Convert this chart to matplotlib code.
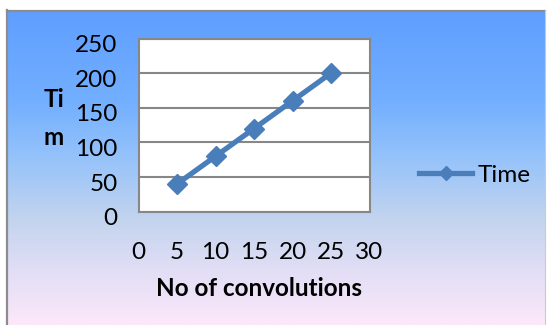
import numpy as np
import matplotlib.pyplot as plt
import matplotlib.transforms as mtransforms
from matplotlib.colors import LinearSegmentedColormap

plt.rcParams['font.family'] = ['Lato', 'DejaVu Sans']

# data
convolutions = [5, 10, 15, 20, 25]
time_taken = [40, 80, 120, 160, 200]
x_ticks = [0, 5, 10, 15, 20, 25, 30]
y_ticks = [0, 50, 100, 150, 200, 250]

W, H = 548, 325
fig = plt.figure(figsize=(W / 100, H / 100), dpi=100)

# chart area background, blue to pink gradient like the excel one
bg = fig.add_axes([0, 0, 1, 1])
bg.set_xlim(0, W)
bg.set_ylim(H, 0)
bg.axis('off')
stops = [(0.0, '#5f9eff'), (0.286, '#72afff'), (0.476, '#97c3fa'),
         (0.667, '#c3d4ee'), (0.825, '#e1def5'), (1.0, '#fce8fa')]
cmap = LinearSegmentedColormap.from_list('chartbg', stops)
grad = np.linspace(0, 1, 256).reshape(-1, 1)
bg.imshow(grad, cmap=cmap, extent=[7, 545, 325, 10], aspect='auto', origin='upper')
bg.plot([7, 7], [325, 10], color='#8c8c8c', lw=1.6)
bg.plot([7, 545], [10.5, 10.5], color='#8c8c8c', lw=1.6)
bg.plot([545, 545], [10, 325], color='#c8c8d8', lw=0.8)

# plot area
ax = fig.add_axes([138.5 / W, 1 - 211.7 / H, 231 / W, 173.2 / H])
ax.set_facecolor('white')
ax.plot(convolutions, time_taken, color='#4a7ebb', lw=3.8, marker='D', ms=10,
        label='Time', zorder=3)
ax.set_xlim(0, 30)
ax.set_ylim(0, 250)
ax.set_xticks(x_ticks)
ax.set_yticks(y_ticks)
ax.grid(axis='y', color='#878787', lw=1.5)
ax.set_axisbelow(True)
for s in ax.spines.values():
    s.set_color('#878787')
    s.set_linewidth(1.5)
ax.tick_params(axis='both', length=0, labelsize=17.5)
ax.tick_params(axis='y', pad=15)
ax.tick_params(axis='x', pad=22)
# excel puts the y labels a bit low
shift = mtransforms.ScaledTranslation(0, -5 / 100, fig.dpi_scale_trans)
for lab in ax.get_yticklabels():
    lab.set_transform(lab.get_transform() + shift)

fig.text(259 / W, 1 - 289 / H, 'No of convolutions', ha='center', va='center',
         weight='bold', fontsize=17.5)
fig.text(54 / W, 1 - 107 / H, 'Ti', ha='center', va='baseline', weight='bold', fontsize=17.5)
fig.text(54 / W, 1 - 145 / H, 'm', ha='center', va='baseline', weight='bold', fontsize=17.5)

fig.legend(loc='center left', bbox_to_anchor=(419 / W, 1 - 175 / H), frameon=False,
           borderpad=0, borderaxespad=0, handlelength=2.2, handletextpad=0.2,
           numpoints=1, markerscale=0.7, fontsize=17.5)

fig.savefig('out.png', dpi=100)
